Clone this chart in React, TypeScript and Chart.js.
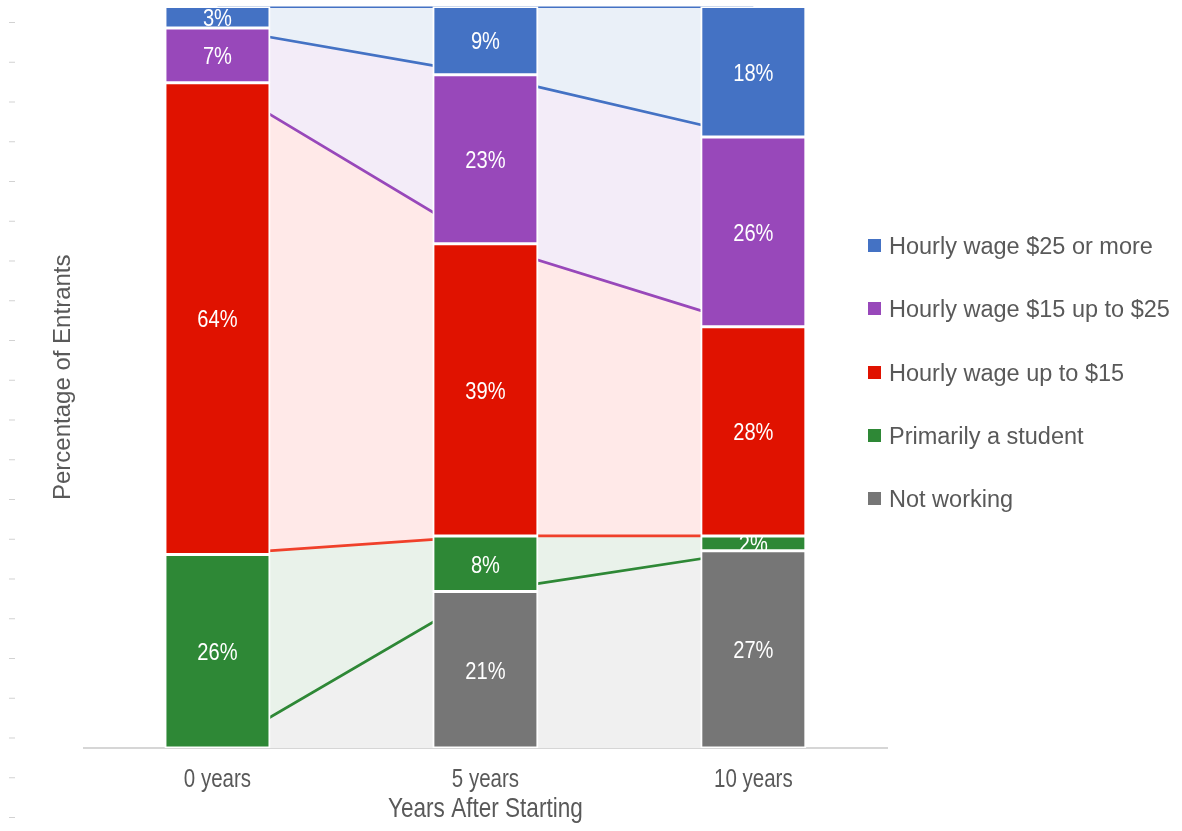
import React, { useEffect, useRef } from "react";
import { Chart, registerables } from "chart.js";

Chart.register(...registerables);

const categories = ["0 years", "5 years", "10 years"];

// Share of entrants (%) in each status, listed from the bottom of the stack up
const notWorking = [0, 21.1, 26.6];
const student = [26.1, 7.5, 2.0];
const wageUpTo15 = [63.6, 39.4, 28.2];
const wage15To25 = [7.4, 22.8, 25.6];
const wage25Plus = [2.9, 9.2, 17.6];

const seriesNames = [
  "Not working",
  "Primarily a student",
  "Hourly wage up to $15",
  "Hourly wage $15 up to $25",
  "Hourly wage $25 or more",
];
const seriesValues = [notWorking, student, wageUpTo15, wage15To25, wage25Plus];

const xTitle = "Years After Starting";
const yTitle = "Percentage of Entrants";

const barColors = ["#767676", "#2E8836", "#E01200", "#9848BA", "#4472C4"];
// pale bands joining the stacks between the columns
const bandColors = ["#F0F0F0", "#E9F2EA", "#FFE9E8", "#F3ECF8", "#EAF0F8"];
// each band's upper edge is stroked in the colour of the segment resting on it
const edgeColors = ["#2E8836", "#F0402A", "#9848BA", "#4472C4", "#4472C4"];

const REGULAR = "'Liberation Sans', Arial, sans-serif";
const TEXT_GREY = "#595959";
// no narrow face is installed, so narrow text is drawn squeezed horizontally
const NARROW_SQUEEZE = 0.82;

function drawNarrowText(ctx: CanvasRenderingContext2D, text: string, x: number, baseline: number, size: number, color: string) {
  ctx.save();
  ctx.translate(x, baseline);
  ctx.scale(NARROW_SQUEEZE, 1);
  ctx.font = `${size}px ${REGULAR}`;
  ctx.fillStyle = color;
  ctx.textAlign = "center";
  ctx.textBaseline = "alphabetic";
  ctx.fillText(text, 0, 0);
  ctx.restore();
}

// Rounded percentage in the middle of every bar segment, painted right after
// its own dataset so the segments below can overlap it.
const segmentLabels = {
  id: "segmentLabels",
  afterDatasetDraw(chart: any, args: any) {
    const ds = chart.data.datasets[args.index];
    if (ds.type !== "bar") return;
    const { ctx, chartArea } = chart;
    const size = 24.5;
    ctx.save();
    ctx.beginPath();
    ctx.rect(chartArea.left, chartArea.top, chartArea.right - chartArea.left, chartArea.bottom - chartArea.top);
    ctx.clip();
    args.meta.data.forEach((el: any, j: number) => {
      const v = ds.data[j] as number;
      if (!v) return;
      const { x, y, base } = el.getProps(["x", "y", "base"], true);
      drawNarrowText(ctx, `${Math.round(v)}%`, x, (y + base) / 2 + 0.36 * size, size, "#FFFFFF");
    });
    ctx.restore();
  },
};

// Category names and the x-axis title in the narrow style, placed from the x scale.
const narrowAxisText = {
  id: "narrowAxisText",
  afterDraw(chart: any) {
    const { ctx, chartArea } = chart;
    const xScale = chart.scales.x;
    categories.forEach((label, i) => {
      drawNarrowText(ctx, label, xScale.getPixelForTick(i), xScale.top + 38.7, 25, TEXT_GREY);
    });
    drawNarrowText(ctx, xTitle, (chartArea.left + chartArea.right) / 2, xScale.bottom - 14.3, 27.5, TEXT_GREY);
  },
};

export default function App() {
  const canvasRef = useRef<HTMLCanvasElement | null>(null);

  useEffect(() => {
    if (!canvasRef.current) return;

    const bars = seriesValues.map((values, i) => ({
      type: "bar" as const,
      label: seriesNames[i],
      data: values,
      backgroundColor: barColors[i],
      borderColor: "#FFFFFF",
      borderWidth: 2,
      borderSkipped: false,
      inflateAmount: 0.5,
      stack: "status",
      order: 0,
      barPercentage: 0.392,
      categoryPercentage: 1,
    }));

    const bands = seriesValues.map((values, i) => ({
      type: "line" as const,
      label: `${seriesNames[i]} band`,
      data: values,
      borderColor: edgeColors[i],
      backgroundColor: bandColors[i],
      borderWidth: 2.75,
      pointRadius: 0,
      pointHoverRadius: 0,
      tension: 0,
      fill: i === 0 ? "origin" : "-1",
      stack: "bands",
      order: 1,
    }));

    const chart = new Chart(canvasRef.current, {
      type: "bar",
      data: { labels: categories, datasets: [...bars, ...bands] as any },
      options: {
        animation: false,
        responsive: true,
        maintainAspectRatio: false,
        layout: { padding: { top: 6.5, right: 294.7, bottom: 0, left: 0 } },
        plugins: {
          legend: { display: false },
          tooltip: { enabled: false },
        },
        scales: {
          x: {
            stacked: true,
            grid: { display: false, drawTicks: false },
            border: { display: true, color: "#D6D6D6", width: 2 },
            ticks: { display: false },
            title: { display: false, text: xTitle },
            afterFit: (scale: any) => {
              scale.height = 83;
            },
          },
          y: {
            stacked: true,
            min: 0,
            max: 100,
            grid: { display: false, drawTicks: false },
            border: { display: false },
            ticks: { display: false },
            title: {
              display: true,
              text: yTitle,
              color: TEXT_GREY,
              font: { family: REGULAR, size: 24 },
              padding: { top: 49.1, bottom: 0 },
            },
            afterFit: (scale: any) => {
              scale.width = 83.5;
            },
          },
        },
      } as any,
      plugins: [segmentLabels, narrowAxisText],
    });

    return () => chart.destroy();
  }, []);

  // legend lists the top of the stack first
  const legendOrder = [4, 3, 2, 1, 0];

  return (
    <div style={{ position: "fixed", left: 0, top: 0, width: 1182, height: 831, background: "#FFFFFF", overflow: "hidden" }}>
      <div
        style={{
          position: "absolute",
          left: 9,
          top: 22,
          width: 6,
          height: 797,
          backgroundImage: "linear-gradient(to bottom, #D2D2D2 0, #D2D2D2 1px, transparent 1px)",
          backgroundSize: "100% 39.75px",
        }}
      />
      <div style={{ position: "absolute", inset: 0 }}>
        <canvas ref={canvasRef} />
      </div>
      <div
        style={{
          position: "absolute",
          left: 868,
          top: 214.2,
          fontFamily: REGULAR,
          fontSize: 23.5,
          color: TEXT_GREY,
        }}
      >
        {legendOrder.map((i) => (
          <div key={seriesNames[i]} style={{ height: 63.2, display: "flex", alignItems: "center", whiteSpace: "nowrap" }}>
            <span style={{ width: 13, height: 13, background: barColors[i], marginRight: 8, flex: "none" }} />
            <span style={{ position: "relative", top: 1 }}>{seriesNames[i]}</span>
          </div>
        ))}
      </div>
    </div>
  );
}
